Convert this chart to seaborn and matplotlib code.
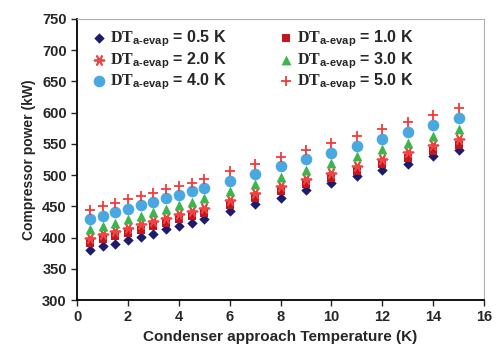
import numpy as np
import matplotlib
matplotlib.use("Agg")
import matplotlib.pyplot as plt
import seaborn as sns
import pandas as pd

# condenser approach temperature (K)
x_vals = [0.5, 1, 1.5, 2, 2.5, 3, 3.5, 4, 4.5, 5, 6, 7, 8, 9, 10, 11, 12, 13, 14, 15]

p_05 = [380, 386, 390, 396, 401, 406, 413, 418, 424, 430, 442, 453, 464, 476, 487, 498, 508, 518, 530, 540]
p_10 = [392, 397, 402, 407, 412, 418, 423, 429, 434, 440, 452, 463, 474, 485, 496, 507, 518, 528, 539, 549]
p_20 = [400, 405, 410, 416, 421, 426, 432, 437, 443, 448, 460, 471, 482, 493, 504, 515, 526, 537, 548, 558]
p_30 = [414, 419, 424, 430, 435, 441, 446, 452, 457, 463, 474, 486, 497, 508, 519, 530, 541, 552, 563, 574]
p_40 = [430, 435, 441, 446, 452, 457, 463, 468, 474, 479, 491, 502, 514, 525, 536, 547, 558, 569, 580, 591]
p_50 = [444, 450, 455, 461, 466, 472, 477, 483, 488, 494, 506, 517, 529, 540, 552, 563, 574, 585, 596, 607]

dt_labels = ["0.5", "1.0", "2.0", "3.0", "4.0", "5.0"]
series = [p_05, p_10, p_20, p_30, p_40, p_50]

sns.set_style("white")
plt.rcParams["font.family"] = ["Liberation Sans", "DejaVu Sans"]
plt.rcParams["mathtext.fontset"] = "custom"
plt.rcParams["mathtext.bf"] = "Liberation Serif:bold"
plt.rcParams["mathtext.sf"] = "Liberation Sans:bold"
plt.rcParams["mathtext.rm"] = "Liberation Sans:bold"


def make_label(dt):
    return r"$\mathbf{DT}_{\mathsf{a\text{-}evap}}$" + " = " + dt + " K"


rows = []
for dt, vals in zip(dt_labels, series):
    for xv, yv in zip(x_vals, vals):
        rows.append({"x": xv, "power": yv, "DT": make_label(dt)})
df = pd.DataFrame(rows)

names = [make_label(d) for d in dt_labels]
colors = ["#1c1c6e", "#c4161c", "#ee4444", "#3cb54a", "#4aa8e0", "#f23a3a"]
markers = ["D", "s", (6, 2, 90), "^", "o", "+"]
sizes = [28, 40, 50, 50, 70, 60]

fig, ax = plt.subplots(figsize=(4.98, 3.58), dpi=100)
fig.subplots_adjust(left=0.155, right=0.972, top=0.947, bottom=0.162)

for name, c, m, s in zip(names, colors, markers, sizes):
    sub = df[df["DT"] == name]
    lw = 0 if m in ["D", "s", "^", "o"] else 1.3
    sns.scatterplot(data=sub, x="x", y="power", ax=ax, color=c, marker=m,
                    s=s, linewidth=lw, label=name)

ax.set_xlim(0, 16)
ax.set_ylim(300, 750)
ax.set_xticks(np.arange(0, 17, 2))
ax.set_yticks(np.arange(300, 751, 50))
ax.tick_params(axis="both", direction="out", length=4, width=1, labelsize=10.5,
               bottom=True, left=True)
for lab in ax.get_xticklabels() + ax.get_yticklabels():
    lab.set_fontweight("bold")
ax.set_xlabel("Condenser approach Temperature (K)", fontsize=11, fontweight="bold")
ax.set_ylabel("Compressor power (kW)", fontsize=10, fontweight="bold")

for sp in ["left", "bottom"]:
    ax.spines[sp].set_color("black")
    ax.spines[sp].set_linewidth(1.3)
for sp in ["top", "right"]:
    ax.spines[sp].set_color("#b0b0b0")
    ax.spines[sp].set_linewidth(0.8)

# row-wise legend order: 0.5 1.0 / 2.0 3.0 / 4.0 5.0
handles, labels = ax.get_legend_handles_labels()
order = [0, 2, 4, 1, 3, 5]
leg = ax.legend([handles[i] for i in order], [labels[i] for i in order],
                loc="upper left", ncol=2, frameon=False, fontsize=11.5,
                handletextpad=0.2, columnspacing=3.2, labelspacing=0.05,
                borderaxespad=0.2, handlelength=1.0, bbox_to_anchor=(0.01, 1.0))
for t in leg.get_texts():
    t.set_fontweight("bold")

fig.savefig("out.png", dpi=100)
